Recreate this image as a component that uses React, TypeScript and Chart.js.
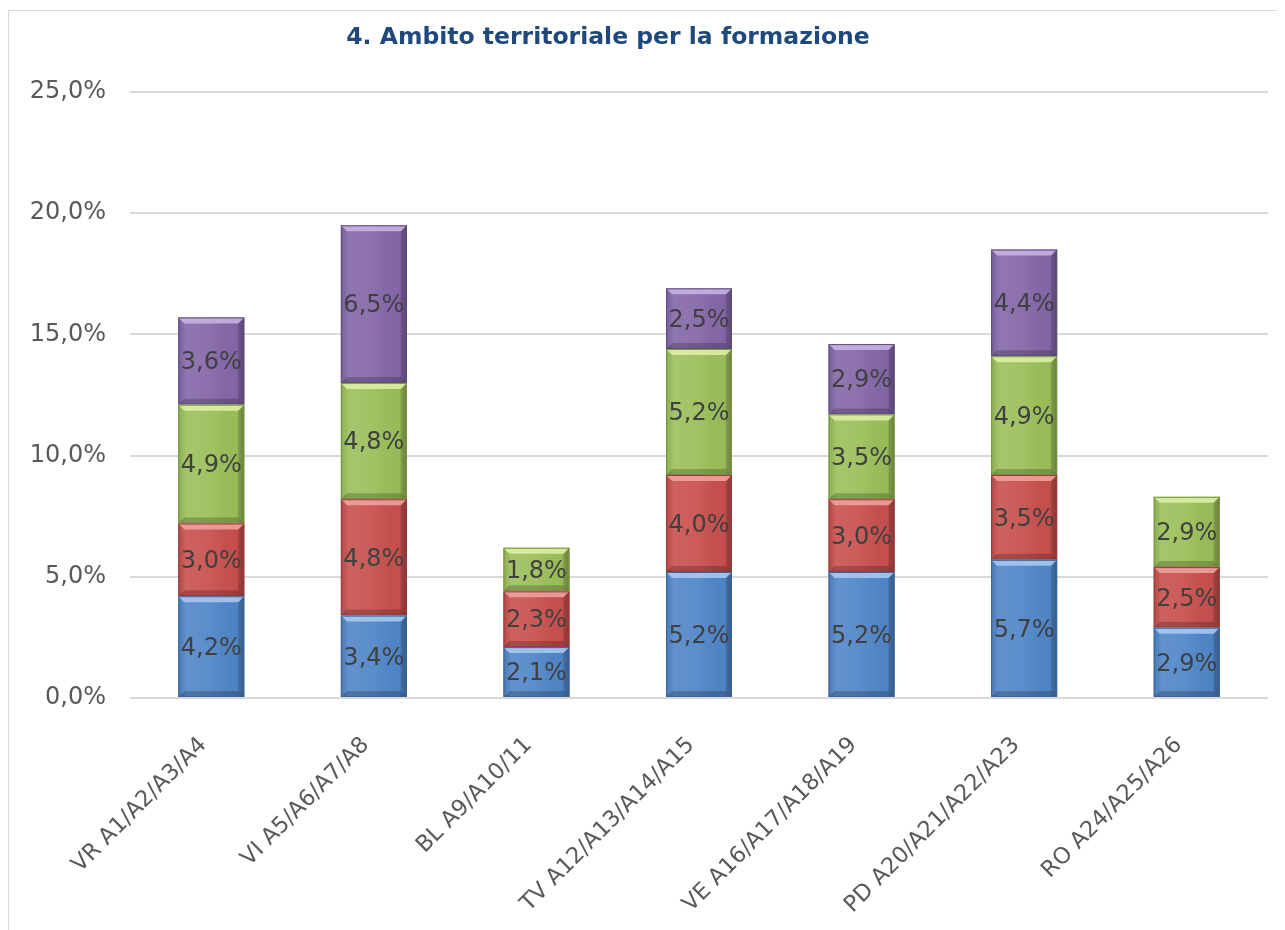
import React, { useEffect, useRef } from "react";
import { Chart, registerables } from "chart.js";

Chart.register(...registerables);

const categories = [
  "VR A1/A2/A3/A4",
  "VI A5/A6/A7/A8",
  "BL A9/A10/11",
  "TV A12/A13/A14/A15",
  "VE A16/A17/A18/A19",
  "PD A20/A21/A22/A23",
  "RO A24/A25/A26",
];

const seriesBlue = [4.2, 3.4, 2.1, 5.2, 5.2, 5.7, 2.9];
const seriesRed = [3.0, 4.8, 2.3, 4.0, 3.0, 3.5, 2.5];
const seriesGreen = [4.9, 4.8, 1.8, 5.2, 3.5, 4.9, 2.9];
const seriesPurple = [3.6, 6.5, 0, 2.5, 2.9, 4.4, 0];

const seriesNames = ["Serie 1", "Serie 2", "Serie 3", "Serie 4"];
const seriesColors = ["#5086C8", "#C8504D", "#9BBF5A", "#8467A8"];
const seriesBorders = ["#3A6294", "#963B39", "#76923F", "#5F4A7B"];
const seriesHighlights = ["#A9CBF2", "#F0A4A2", "#DDF2A8", "#CBB5E6"];

const yTicks = [0, 5, 10, 15, 20, 25];
const titleText = "4. Ambito territoriale per la formazione";

const fmt = (v: number) => v.toFixed(1).replace(".", ",") + "%";

const bevelPlugin = {
  id: "bevel",
  afterDatasetDraw(chart: any, args: any) {
    const ctx = chart.ctx;
    const i = args.index;
    const meta = args.meta;
    ctx.save();
    meta.data.forEach((el: any, j: number) => {
      const v = chart.data.datasets[i].data[j];
      if (!v) return;
      const w = el.width;
      const left = el.x - w / 2;
      const right = el.x + w / 2;
      const top = Math.min(el.y, el.base);
      const bottom = Math.max(el.y, el.base);
      const h = bottom - top;
      const g = ctx.createLinearGradient(left, 0, right, 0);
      g.addColorStop(0, "rgba(0,0,0,0.10)");
      g.addColorStop(0.12, "rgba(255,255,255,0.10)");
      g.addColorStop(0.5, "rgba(255,255,255,0.06)");
      g.addColorStop(0.88, "rgba(0,0,0,0.02)");
      g.addColorStop(1, "rgba(0,0,0,0.22)");
      ctx.fillStyle = g;
      ctx.fillRect(left, top, w, h);
      const b = Math.min(6, h / 3);
      ctx.beginPath();
      ctx.moveTo(left, top);
      ctx.lineTo(right, top);
      ctx.lineTo(right - b, top + b);
      ctx.lineTo(left + b, top + b);
      ctx.closePath();
      ctx.fillStyle = seriesHighlights[i];
      ctx.globalAlpha = 0.85;
      ctx.fill();
      ctx.beginPath();
      ctx.moveTo(left, bottom);
      ctx.lineTo(right, bottom);
      ctx.lineTo(right - b, bottom - b);
      ctx.lineTo(left + b, bottom - b);
      ctx.closePath();
      ctx.fillStyle = "rgba(0,0,0,0.25)";
      ctx.globalAlpha = 0.8;
      ctx.fill();
      ctx.globalAlpha = 1;
      ctx.beginPath();
      ctx.moveTo(right, top);
      ctx.lineTo(right, bottom);
      ctx.lineTo(right - b, bottom - b);
      ctx.lineTo(right - b, top + b);
      ctx.closePath();
      ctx.fillStyle = "rgba(0,0,0,0.12)";
      ctx.fill();
      ctx.strokeStyle = seriesBorders[i];
      ctx.lineWidth = 1;
      ctx.strokeRect(left + 0.5, top + 0.5, w - 1, h - 1);
    });
    ctx.restore();
  },
};

const labelPlugin = {
  id: "valueLabels",
  afterDatasetsDraw(chart: any) {
    const ctx = chart.ctx;
    ctx.save();
    ctx.font = "24px 'DejaVu Sans'";
    ctx.fillStyle = "#404040";
    ctx.textAlign = "center";
    ctx.textBaseline = "middle";
    chart.data.datasets.forEach((ds: any, i: number) => {
      const meta = chart.getDatasetMeta(i);
      meta.data.forEach((el: any, j: number) => {
        const v = ds.data[j];
        if (!v) return;
        const cy = (el.y + el.base) / 2;
        ctx.fillText(fmt(v), el.x, cy + 2);
      });
    });
    ctx.restore();
  },
};

const titlePlugin = {
  id: "customTitle",
  afterDraw(chart: any) {
    const ctx = chart.ctx;
    ctx.save();
    ctx.font = "bold 23.5px 'DejaVu Sans'";
    ctx.fillStyle = "#1F497D";
    ctx.textAlign = "center";
    ctx.textBaseline = "middle";
    ctx.fillText(titleText, 599, 27);
    ctx.restore();
  },
};

export default function App() {
  const ref = useRef<HTMLCanvasElement | null>(null);
  useEffect(() => {
    if (!ref.current) return;
    const allSeries = [seriesBlue, seriesRed, seriesGreen, seriesPurple];
    const chart = new Chart(ref.current, {
      type: "bar",
      data: {
        labels: categories,
        datasets: allSeries.map((d, i) => ({
          label: seriesNames[i],
          data: d,
          backgroundColor: seriesColors[i],
          borderWidth: 0,
          categoryPercentage: 1,
          barPercentage: 0.406,
        })),
      },
      options: {
        animation: false,
        responsive: true,
        maintainAspectRatio: false,
        layout: { padding: { top: 81, right: 17, left: 0, bottom: 0 } },
        plugins: {
          legend: { display: false },
          title: { display: false },
          tooltip: { enabled: false },
        },
        scales: {
          x: {
            stacked: true,
            grid: { display: false },
            border: { display: false },
            ticks: {
              color: "#595959",
              font: { family: "'DejaVu Sans'", size: 22.5 },
              minRotation: 45,
              maxRotation: 45,
              padding: 26,
              labelOffset: -8,
            },
            afterFit: (s: any) => {
              s.height = 232;
            },
          },
          y: {
            stacked: true,
            min: 0,
            max: 25,
            afterBuildTicks: (s: any) => {
              s.ticks = yTicks.map((v) => ({ value: v }));
            },
            grid: { color: "#D9D9D9", lineWidth: 2, drawTicks: false },
            border: { display: false },
            ticks: {
              color: "#595959",
              font: { family: "'DejaVu Sans'", size: 24 },
              padding: 24,
              callback: (v: any) => fmt(Number(v)),
            },
            afterFit: (s: any) => {
              s.width = 121;
            },
          },
        },
      },
      plugins: [bevelPlugin, labelPlugin, titlePlugin],
    });
    return () => chart.destroy();
  }, []);

  return (
    <div
      style={{
        marginTop: 2,
        borderTop: "1px solid #D9D9D9",
        borderLeft: "1px solid #D9D9D9",
        width: 1276,
        height: 919,
        position: "relative",
        boxSizing: "content-box",
      }}
    >
      <canvas ref={ref} />
    </div>
  );
}
